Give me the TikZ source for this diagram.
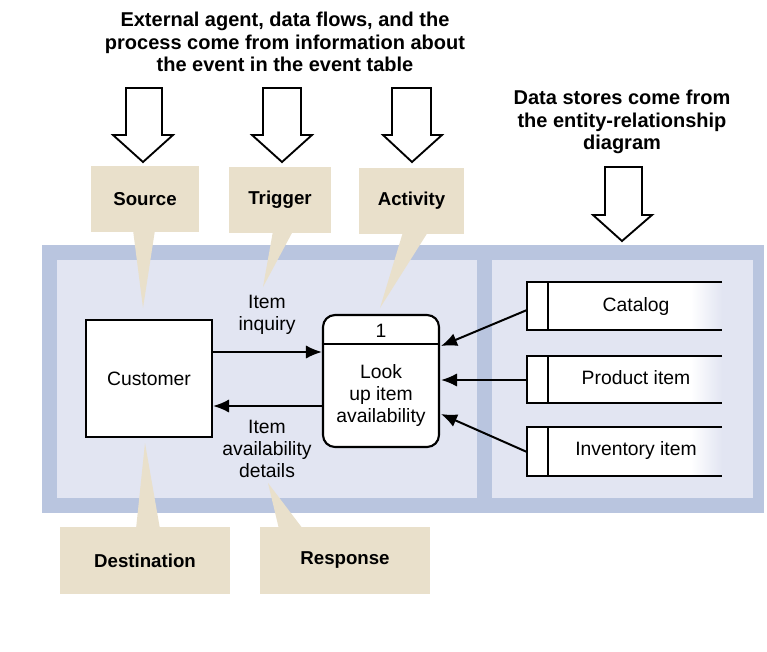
\documentclass[tikz,border=0pt]{standalone}
\usepackage{fontspec}
\setmainfont{Liberation Sans}
\usetikzlibrary{arrows.meta}
\definecolor{band}{HTML}{B9C5DF}
\definecolor{panel}{HTML}{E2E5F2}
\definecolor{beige}{HTML}{E9E0CB}
\begin{document}
\begin{tikzpicture}[x=0.75pt,y=-0.75pt,
  every node/.style={font=\fontsize{14.5}{16.5}\selectfont, inner sep=0pt},
  lbl/.style={align=center, font=\fontsize{14.5}{16.5}\selectfont},
  blbl/.style={align=center, font=\fontsize{15}{16.8}\selectfont\bfseries},
  callout/.style={fill=beige, font=\fontsize{14}{16.5}\selectfont\bfseries},
  hollow/.style={draw=black, fill=white, line width=1.4pt, line join=miter},
  flow/.style={draw, line width=1.5pt, -{Latex[length=12pt,width=10pt]}},
  boxstyle/.style={draw, line width=1.6pt, fill=white},
  storeline/.style={draw, line width=1.6pt}]
\useasboundingbox (0,0) rectangle (767,651);
\fill[white] (0,0) rectangle (767,651);
% background panels
\fill[band] (42,245) rectangle (764,513);
\fill[panel] (57,260) rectangle (477,498);
\fill[panel] (492,260) rectangle (753,498);
% top texts
\node[blbl] (toptext) at (285,42) {External agent, data flows, and the\\process come from information about\\the event in the event table};
\node[blbl] (dstext) at (622,122) {Data stores come from\\the entity-relationship\\diagram};
% hollow arrows
\draw[hollow] (126,88) -- (126,135) -- (113,135) -- (143,162) -- (173,135) -- (162,135) -- (162,88) -- cycle;
\draw[hollow] (263,88) -- (263,135) -- (252,135) -- (282,162) -- (312,135) -- (301,135) -- (301,88) -- cycle;
\draw[hollow] (392,88) -- (392,135) -- (383,135) -- (412,162) -- (442,135) -- (431,135) -- (431,88) -- cycle;
\draw[hollow] (605,167) -- (605,215) -- (593,215) -- (622,241) -- (652,215) -- (642,215) -- (642,167) -- cycle;
% callouts
\fill[beige] (133,230) -- (143,308) -- (155,230) -- cycle;
\fill[beige] (273,231) -- (263,287) -- (293,231) -- cycle;
\fill[beige] (403,232) -- (380,308) -- (428,232) -- cycle;
\fill[beige] (136,529) -- (145,443) -- (160,529) -- cycle;
\fill[beige] (279,529) -- (268,483) -- (303,529) -- cycle;
\node[callout, minimum width=81pt, minimum height=49.5pt] (src) at (145,199) {Source};
\node[callout, minimum width=76.5pt, minimum height=49.5pt] (trg) at (280,200) {Trigger};
\node[callout, minimum width=78.75pt, minimum height=49.5pt] (act) at (411.5,201) {Activity};
\node[callout, minimum width=127.5pt, minimum height=50.25pt] (dst) at (145,560.5) {Destination};
\node[callout, minimum width=127.5pt, minimum height=50.25pt] (rsp) at (345,560.5) {Response};
% customer and process
\node[boxstyle, minimum width=94.5pt, minimum height=87.75pt] (cust) at (149,378.5) {Customer};
\node[boxstyle, rounded corners=9pt, minimum width=87pt, minimum height=99pt] (proc) at (381,381) {};
\draw[line width=1.6pt] (proc.west |- 0,344) -- (proc.east |- 0,344);
\node (pnum) at (381,331) {1};
\node[lbl] (pname) at (381,395) {Look\\up item\\availability};
% flows between customer and process
\draw[flow] (cust.east |- 0,352) -- (proc.west |- 0,352);
\draw[flow] (proc.west |- 0,406) -- (cust.east |- 0,406);
\node[lbl] (inq) at (267,315) {Item\\inquiry};
\node[lbl] (det) at (267,449) {Item\\availability\\details};
% data stores
\foreach \ya/\yb in {282/330, 356/403, 427/476}{
  \fill[white] (527,\ya) rectangle (692,\yb);
  \shade[left color=white, right color=panel] (691,\ya) rectangle (722,\yb);
  \draw[storeline] (722,\ya) -- (527,\ya) -- (527,\yb) -- (722,\yb);
  \draw[storeline] (548,\ya) -- (548,\yb);
}
\node (cat) at (636,306) {Catalog};
\node (prod) at (636,378) {Product item};
\node (inv) at (636,450) {Inventory item};
\coordinate (catL) at (527,310);
\coordinate (prodL) at (527,380);
\coordinate (invL) at (527,452);
\coordinate (pin1) at (441,346);
\coordinate (pin2) at (441,380);
\coordinate (pin3) at (441,414);
\draw[flow] (catL) -- (pin1);
\draw[flow] (prodL) -- (pin2);
\draw[flow] (invL) -- (pin3);
\end{tikzpicture}
\end{document}
